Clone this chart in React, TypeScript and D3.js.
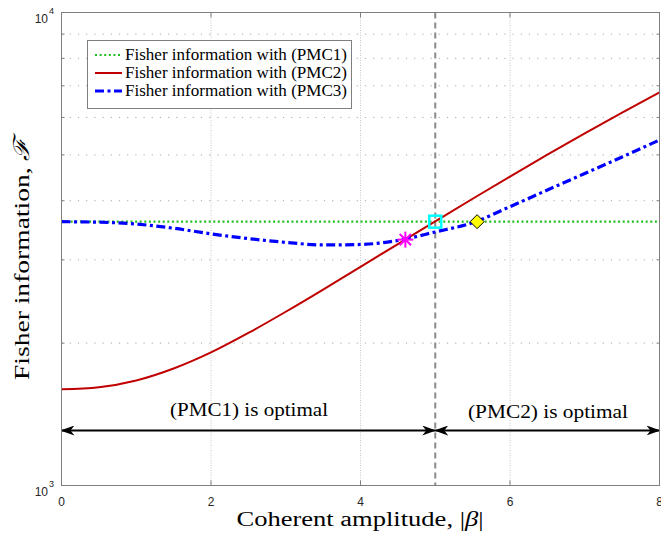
import React from 'react';
import * as d3 from 'd3';

const beta = [0, 0.5, 1, 1.5, 2, 2.5, 3, 3.5, 4, 4.5, 5, 5.5, 6, 6.5, 7, 7.5, 8];
const fisherPMC1 = [3612, 3612, 3612, 3612, 3612, 3612, 3612, 3612, 3612, 3612, 3612, 3612, 3612, 3612, 3612, 3612, 3612];
const fisherPMC2 = [1597, 1613, 1667, 1767, 1911, 2101, 2330, 2596, 2900, 3238, 3617, 4039, 4500, 5004, 5551, 6143, 6781];
const fisherPMC3 = [3612, 3603, 3570, 3499, 3404, 3327, 3266, 3225, 3233, 3296, 3436, 3594, 3886, 4215, 4567, 4950, 5375];

const xTicks = [0, 2, 4, 6, 8];
const yMajorTicks = [1000, 10000];
const yMinorTicks = [2000, 3000, 4000, 5000, 6000, 7000, 8000, 9000];

const thresholdBeta = 5;
const starPoint = [4.6, 3310];
const squarePoint = [5.0, 3612];
const diamondPoint = [5.56, 3612];

const legendLabels = [
  'Fisher information with (PMC1)',
  'Fisher information with (PMC2)',
  'Fisher information with (PMC3)',
];
const regionLabels = ['(PMC1) is optimal', '(PMC2) is optimal'];

const GREEN = '#1fbf1f';
const RED = '#c00000';
const BLUE = '#0000ff';

export default function App() {
  const W = 661;
  const H = 535;
  const left = 61.5, right = 659.5, top = 12.5, bottom = 485.5;
  const x = d3.scaleLinear().domain([0, 8]).range([left, right]);
  const y = d3.scaleLog().domain([1000, 10000]).range([bottom, top]);

  const mkLine = (vals: number[]) =>
    d3
      .line<number>()
      .x((_, i) => x(beta[i]))
      .y((v) => y(v))
      .curve(d3.curveMonotoneX)(vals) || '';

  const serif = '"Liberation Serif", "Times New Roman", serif';
  const sans = '"Liberation Sans", Arial, sans-serif';
  const axisCol = '#7f7f7f';
  const tickTextCol = '#262626';

  const arrowY = 430.5;

  const [sx, sy] = [x(starPoint[0]), y(starPoint[1])];
  const starR = 8;
  const starLines = [0, 45, 90, 135].map((a) => {
    const r = (a * Math.PI) / 180;
    return [sx - starR * Math.cos(r), sy - starR * Math.sin(r), sx + starR * Math.cos(r), sy + starR * Math.sin(r)];
  });
  const [qx, qy] = [x(squarePoint[0]), y(squarePoint[1])];
  const [dx, dy] = [x(diamondPoint[0]), y(diamondPoint[1])];

  return (
    <svg width={W} height={H} style={{ position: 'absolute', left: 0, top: 0, background: '#fff' }}>
      <defs>
        <marker id="arr" viewBox="0 0 14 10" refX="13" refY="5" markerWidth="14" markerHeight="10" markerUnits="userSpaceOnUse" orient="auto-start-reverse">
          <path d="M0,0 L14,5 L0,10 L4,5 Z" fill="#000" />
        </marker>
        <clipPath id="plotclip">
          <rect x={left} y={top} width={right - left} height={bottom - top} />
        </clipPath>
      </defs>
      <rect x={0} y={0} width={W} height={H} fill="#fff" />

      {/* grid */}
      {xTicks.filter((t) => t > 0 && t < 8).map((t) => (
        <line key={'gx' + t} x1={x(t)} x2={x(t)} y1={top} y2={bottom} stroke="#c8c8c8" strokeWidth={1} strokeDasharray="1,1.5" />
      ))}
      {yMinorTicks.map((t) => (
        <line key={'gy' + t} x1={left} x2={right} y1={y(t)} y2={y(t)} stroke="#a8a8a8" strokeWidth={1} strokeDasharray="1.2,7" />
      ))}

      {/* threshold line */}
      <line x1={x(thresholdBeta)} x2={x(thresholdBeta)} y1={top} y2={bottom} stroke="#8a8a8a" strokeWidth={2} strokeDasharray="6,4" />

      {/* curves */}
      <g clipPath="url(#plotclip)">
        <path d={mkLine(fisherPMC1)} fill="none" stroke={GREEN} strokeWidth={2.2} strokeDasharray="2,2.6" />
        <path d={mkLine(fisherPMC2)} fill="none" stroke={RED} strokeWidth={2} />
        <path d={mkLine(fisherPMC3)} fill="none" stroke={BLUE} strokeWidth={3.2} strokeDasharray="9,3.5,3,3.5" />
      </g>

      {/* markers */}
      {starLines.map((l, i) => (
        <line key={'s' + i} x1={l[0]} y1={l[1]} x2={l[2]} y2={l[3]} stroke="#ff00ff" strokeWidth={2} />
      ))}
      <rect x={qx - 6} y={qy - 6} width={12} height={12} fill="none" stroke="#00ffff" strokeWidth={2.5} />
      <path d={`M${dx - 7},${dy} L${dx},${dy - 7} L${dx + 7},${dy} L${dx},${dy + 7} Z`} fill="#ffff00" stroke="#000" strokeWidth={1} />

      {/* arrows */}
      <line x1={x(0)} x2={x(thresholdBeta)} y1={arrowY} y2={arrowY} stroke="#000" strokeWidth={2} markerStart="url(#arr)" markerEnd="url(#arr)" />
      <line x1={x(thresholdBeta)} x2={x(8)} y1={arrowY} y2={arrowY} stroke="#000" strokeWidth={2} markerStart="url(#arr)" markerEnd="url(#arr)" />
      <text x={249} y={416} textAnchor="middle" fontFamily={serif} fontSize={19} textLength={158} lengthAdjust="spacingAndGlyphs" fill="#000">{regionLabels[0]}</text>
      <text x={548} y={418} textAnchor="middle" fontFamily={serif} fontSize={19} textLength={160} lengthAdjust="spacingAndGlyphs" fill="#000">{regionLabels[1]}</text>

      {/* axes box */}
      <rect x={left} y={top} width={right - left} height={bottom - top} fill="none" stroke={axisCol} strokeWidth={1} />
      {xTicks.map((t) => (
        <g key={'xt' + t}>
          <line x1={x(t)} x2={x(t)} y1={bottom} y2={bottom - 5} stroke={axisCol} />
          <line x1={x(t)} x2={x(t)} y1={top} y2={top + 5} stroke={axisCol} />
          <text x={x(t)} y={bottom + 20} textAnchor="middle" fontFamily={sans} fontSize={12} fill={tickTextCol}>{t}</text>
        </g>
      ))}
      {yMinorTicks.map((t) => (
        <g key={'ym' + t}>
          <line x1={left} x2={left + 3} y1={y(t)} y2={y(t)} stroke={axisCol} />
          <line x1={right} x2={right - 3} y1={y(t)} y2={y(t)} stroke={axisCol} />
        </g>
      ))}
      {yMajorTicks.map((t) => (
        <g key={'yM' + t}>
          <text x={48} y={y(t) + 10.5} textAnchor="end" fontFamily={sans} fontSize={12} fill={tickTextCol}>10</text>
          <text x={49} y={y(t) + 1.5} textAnchor="start" fontFamily={sans} fontSize={9} fill={tickTextCol}>{Math.round(Math.log10(t))}</text>
        </g>
      ))}

      {/* axis labels */}
      <text x={360} y={526} textAnchor="middle" fontFamily={serif} fontSize={20.5} textLength={247} lengthAdjust="spacingAndGlyphs" fill="#000">
        Coherent amplitude, |<tspan fontStyle="italic">β</tspan>|
      </text>
      <text transform={`translate(29, 259) rotate(-90)`} textAnchor="middle" fontFamily={serif} fontSize={22} textLength={242} lengthAdjust="spacingAndGlyphs" fill="#000">
        Fisher information, <tspan fontStyle="italic">ℱ</tspan>
      </text>

      {/* legend */}
      <rect x={87.5} y={40.5} width={264} height={68} fill="#fff" stroke={axisCol} strokeWidth={1} />
      {legendLabels.map((lab, i) => {
        const ly = 55 + i * 18;
        const stroke = [GREEN, RED, BLUE][i];
        const dash = ['2,2.6', '', '9,3.5,3,3.5'][i];
        const sw = [2.2, 2, 3.2][i];
        return (
          <g key={'lg' + i}>
            <line x1={95} x2={122} y1={ly} y2={ly} stroke={stroke} strokeWidth={sw} strokeDasharray={dash || undefined} />
            <text x={125} y={ly + 5} fontFamily={serif} fontSize={16.5} textLength={222} lengthAdjust="spacingAndGlyphs" fill="#000">{lab}</text>
          </g>
        );
      })}
    </svg>
  );
}
